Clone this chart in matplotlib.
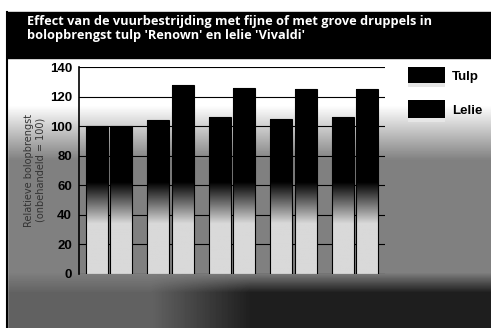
import numpy as np
import matplotlib
matplotlib.use("Agg")
from matplotlib import pyplot as plt
from matplotlib.patches import Rectangle

# data (relative bulb yield, untreated = 100)
groepen = ["onbehandeld", "behandeling 1", "behandeling 2", "behandeling 3", "behandeling 4"]
tulp = [100, 104, 106, 105, 106]
lelie = [100, 128, 126, 125, 125]
yticks = [0, 20, 40, 60, 80, 100, 120, 140]

title = ("Effect van de vuurbestrijding met fijne of met grove druppels in\n"
         "bolopbrengst tulp 'Renown' en lelie 'Vivaldi'")

W, H = 491, 328
fig = plt.figure(figsize=(W / 100, H / 100), dpi=100)

# background "photo": plain gradient, light on top, dark at the bottom
bg = fig.add_axes([0, 0, 1, 1], zorder=0)
bg.set_axis_off()
yy, xx = np.mgrid[0:H, 0:W]
mid = np.clip((yy - 105) / 55.0, 0, 1)
shade = 1 - 0.5 * mid
low = np.clip((yy - 272) / 20.0, 0, 1)
shade = shade - 0.38 * low * (0.3 + 0.7 * np.clip((xx - 150) / 100.0, 0, 1))
bg.imshow(shade, cmap="gray", vmin=0, vmax=1, extent=[0, W, H, 0], aspect="auto")
bg.set_xlim(0, W)
bg.set_ylim(H, 0)
bg.add_patch(Rectangle((7, 0), W, 12, color="white", zorder=2))
bg.add_patch(Rectangle((0, 0), 7, H, color="white", zorder=2))
bg.add_patch(Rectangle((7, 12), W - 7, 46, color="black", zorder=3))
bg.plot([7, 7], [12, H], color="black", lw=1.5, zorder=3)
bg.text(27, 15, title, color="white", fontsize=9.2, fontweight="bold",
        family="Open Sans", va="top", ha="left", linespacing=1.1, zorder=4)
bg.text(35, 170, "Relatieve bolopbrengst\n(onbehandeld = 100)", rotation=90,
        ha="center", va="center", fontsize=7, color="#333333", zorder=4)

# chart
ax = fig.add_axes([79 / W, 1 - 274 / H, 306 / W, 207 / H], zorder=1)
ax.set_facecolor("none")

# vertical gradient for the bars: black on top, fading to light grey near the bottom
g = np.linspace(0, 140, 300)
tone = np.clip((62 - g) / 28.0, 0, 1) * 0.85
img = np.tile(tone[:, None], (1, 2))

for i in range(len(groepen)):
    c = 30 + 61.5 * i
    for x, v in ((c - 12.25, tulp[i]), (c + 12.25, lelie[i])):
        b = ax.bar(x, v, width=22, color="none", edgecolor="black", lw=0.8, zorder=3)[0]
        im = ax.imshow(img, cmap="gray", vmin=0, vmax=1, origin="lower",
                       extent=[0, 306, 0, 140], aspect="auto", zorder=2)
        im.set_clip_path(b)

ax.set_xlim(0, 306)
ax.set_ylim(0, 140)
ax.set_yticks(yticks)
ax.set_yticklabels([str(t) for t in yticks], family="Liberation Sans",
                   fontsize=9.5, fontweight="bold")
ax.yaxis.grid(True, color="black", lw=0.8, zorder=1)
ax.set_axisbelow(True)
ax.tick_params(axis="y", length=0, pad=5)
ax.set_xticks([])
for s in ("top", "right", "bottom"):
    ax.spines[s].set_visible(False)
ax.spines["left"].set_linewidth(1.2)

# legend with gradient swatches
for naam, ytop, hgt in (("Tulp", 67, 20), ("Lelie", 100, 22)):
    sw = fig.add_axes([408 / W, 1 - (ytop + hgt) / H, 37 / W, hgt / H], zorder=2)
    sw.imshow(np.array([[0.9], [0.0], [0.0], [0.0], [0.0]]), cmap="gray", vmin=0, vmax=1,
              origin="lower", aspect="auto")
    sw.set_axis_off()
    fig.text(452 / W, 1 - (ytop + hgt / 2) / H, naam, family="Liberation Sans",
             fontsize=9.5, fontweight="bold", va="center", ha="left")

fig.savefig("out.png", dpi=100)
